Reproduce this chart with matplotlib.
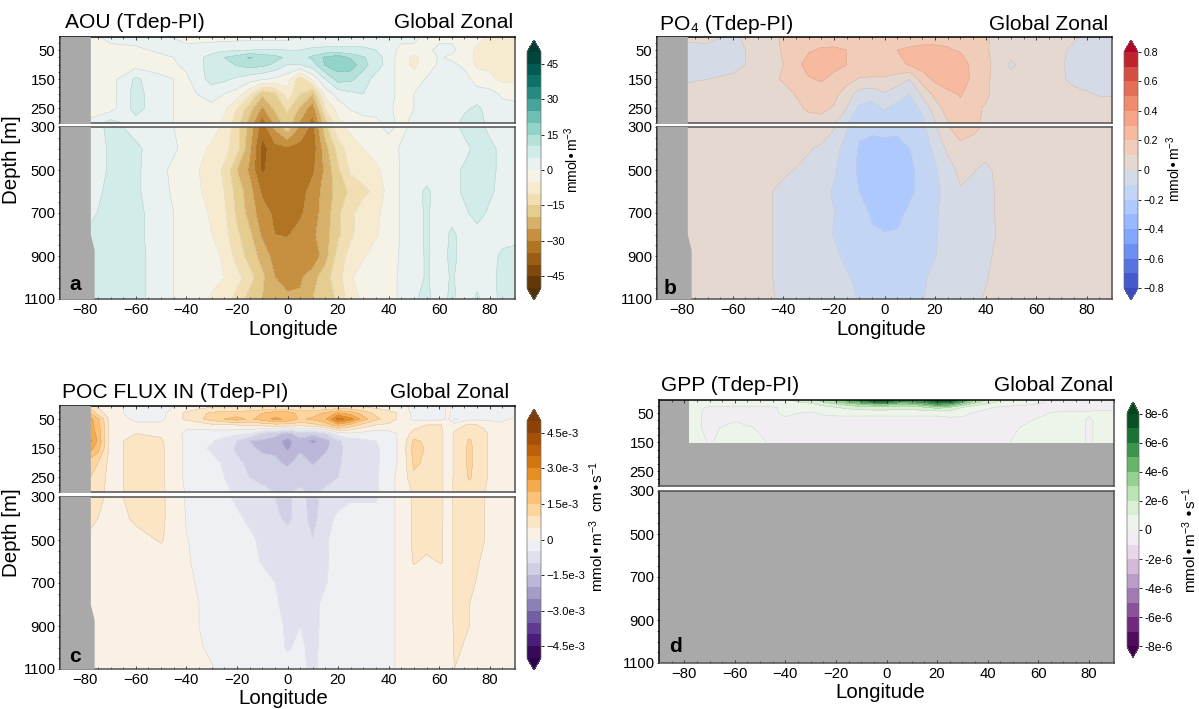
#!/usr/bin/env python3

import numpy as np
import matplotlib
matplotlib.use("Agg")
import matplotlib.pyplot as plt
from matplotlib.ticker import MultipleLocator

plt.rcParams['font.family'] = ['Liberation Sans', 'DejaVu Sans']
plt.rcParams['mathtext.default'] = 'regular'

WIDTH, HEIGHT = 1199, 709

# one row per depth, one column per longitude
lon = [-78, -70, -60, -50, -40, -30, -25, -20, -15, -10, -5, 0, 5, 10, 15,
       20, 25, 30, 35, 40, 45, 50, 55, 60, 65, 70, 75, 80, 85, 90]

aou_depth = [5, 50, 75, 100, 150, 200, 250, 300, 400, 500, 600, 700, 800, 900, 1000, 1100]
aou = [
    [-2, 2, 2, 1, -2, -2, -2, -2, -2, -2, -2, -2, 1, 1, 2, 2, 2, 2, 2, 2, 2, 2, -2, -1, -1, -2, -3, -6, -7, -7],
    [-2, -2, -1, 1, 2, 3, 4, 4.5, 5, 5.5, 5.5, 5, 5, 6, 6, 6, 6, 6, 5, 3, -2, -2, -1, 1, 1, -2, -6, -7, -7, -7],
    [-2, -2, -2, -1, 1, 7, 10, 12, 15.5, 13, 11.5, 9, 8, 11, 16, 18, 14, 10.5, 7, 3, -3, -6, -3, 0.5, -1, -3, -6, -7, -7, -7],
    [-2, -3, -2, -2, 1, 7, 8, 10.5, 12, 11.5, 9, 5, 5, 8, 15.5, 18, 18, 11.5, 7.5, 3, -3, -6, -3, 1, 1, -1, -6, -6, -7, -7],
    [-2, -2, 6, 1, -1, 7, 6, 4, 2, 0.5, -1, -3, -13, -4, 5, 12, 11, 7.5, 3, 2, -2, -3, 0.5, 1, 1.5, 2, -2, -4, -6, -6],
    [-2, -2, 7, 1, -1, 1.5, 0, -2, -9, -19, -16, -7, -15, -20, -3, 2, 4, 5, 3, 2, -2, 0, 1, 2, 2, 3, 2, 2, -1, -1],
    [-2, -2, 7, 1, -1, -1, -4, -10, -18, -26, -19, -14, -21, -28, -10, -3, 0.5, 2, 1.5, 1, -2, 0, 1, 3, 2, 4, 6, 3, 2, 1],
    [1, 7, 3, 2, -2, -3, -6, -13, -22, -33, -24, -17, -26, -32, -17, -6, -4, -2, -1, 1, -1, 1, 2, 3, 2, 7, 8, 3, 2, 2],
    [1, 6, 6, 2, -1, -6, -8, -13, -24, -37, -32, -31, -32, -33, -22, -13, -7, -5, -3, -2, 0.5, 1, 2, 2, 2, 3, 7, 7, 3, 3],
    [1, 6, 6, 1, -3, -7, -11, -20, -26, -36, -32, -32, -32, -31, -24, -16, -9, -8, -6, -3, 0.5, 1, 2, 3, 3, 6, 8, 7, 3, 3],
    [2, 7, 6, 1, -2, -7, -10, -17, -23, -31, -31.5, -33, -32, -28, -23, -18, -14, -11, -9, -3, 0.5, 3, 6, 3, 3, 6, 8, 6, 3, 3],
    [4, 7, 6.5, 2, -2, -5.5, -9, -16, -22, -28, -31, -31, -31, -27, -23, -16, -11, -8, -6, -3, 0.5, 2, 6, 2, 3, 4, 7, 4, 3, 3],
    [6, 7, 6.5, 2, -2, -5, -8, -14, -19, -26, -30, -30.5, -28, -26, -22, -16, -11, -7, -5.5, -3, 0.5, 2, 6, 2, 6, 3, 3, 3, 3, 4],
    [7, 7, 7, 2, -2, -3, -6, -12, -17, -22, -27, -27, -27, -29, -22, -13, -8, -5.5, -3, -2, 0.5, 1, 6, 1, 7, 2, 3, 3, 6, 6],
    [7, 7, 7, 2, -2, -4, -5, -8, -13, -19, -25, -27, -26, -22, -17, -12, -5.5, -3, -2, -1, 0.5, 1, 6, 1, 6, 1, 3, 3, 7, 7],
    [7, 7, 7, 2, -2, -5.5, -7, -12, -17, -20, -24, -24, -24, -20, -18, -14, -7, -4, -2, -1, 0.5, 4, 7, 1, 7, 1, 6, 2, 7, 7],
]

po4_depth = [5, 50, 100, 150, 200, 250, 300, 400, 500, 600, 700, 800, 900, 1000, 1100]
po4 = [
    [.02, .03, -.02, .05, .11, .15, .16, .17, .17, .17, .17, .17, .17, .17, .17, .17, .17, .17, .15, .11, .08, .05, .05, .05, .05, .05, .02, -.03, -.03, -.04],
    [-.03, -.03, -.03, .03, .11, .19, .21, .21, .2, .19, .17, .19, .2, .21, .22, .22, .21, .19, .15, .11, .07, .05, .04, .04, .03, .02, -.03, -.04, -.04, -.04],
    [-.03, -.03, -.03, .03, .10, .24, .26, .23, .2, .17, .15, .15, .17, .21, .24, .26, .27, .26, .17, .13, .06, -.02, .03, .05, .04, .01, -.03, -.04, -.04, -.04],
    [-.01, 0, .02, .05, .11, .19, .21, .17, .14, .09, .09, .09, .06, 0, .15, .22, .27, .27, .17, .12, .06, .04, .04, .03, .03, .01, -.02, -.04, -.04, -.04],
    [.03, .03, .04, .05, .07, .14, .15, .13, .05, -.04, -.06, -.01, -.06, -.1, .02, .13, .17, .21, .15, .12, .06, .05, .05, .04, .04, .03, .02, .01, -.01, -.01],
    [.04, .04, .05, .05, .06, .11, .12, .09, 0, -.12, -.14, -.09, -.13, -.16, -.07, .05, .15, .17, .12, .09, .06, .05, .05, .05, .05, .05, .05, .05, .05, .05],
    [.05, .05, .05, .05, .05, .07, .07, .01, -.09, -.18, -.18, -.18, -.18, -.18, -.13, -.01, .09, .17, .13, .08, .05, .05, .05, .05, .05, .05, .05, .05, .05, .05],
    [.05, .05, .05, .05, .05, .01, -.02, -.07, -.13, -.21, -.23, -.22, -.23, -.2, -.15, -.08, .02, .06, .05, .05, .05, .05, .05, .05, .05, .05, .05, .05, .05, .05],
    [.05, .05, .05, .05, .02, -.03, -.06, -.09, -.14, -.22, -.25, -.25, -.25, -.22, -.17, -.11, -.05, .03, .01, -.03, .03, .05, .05, .05, .05, .05, .05, .05, .05, .05],
    [.05, .05, .05, .04, -.03, -.05, -.07, -.11, -.15, -.2, -.23, -.25, -.25, -.22, -.17, -.12, -.07, -.01, -.04, -.05, .02, .05, .05, .05, .05, .05, .05, .05, .05, .05],
    [.05, .05, .05, .04, -.03, -.05, -.07, -.098, -.14, -.17, -.21, -.23, -.23, -.18, -.16, -.11, -.07, -.05, -.05, -.05, .02, .05, .05, .05, .05, .05, .05, .05, .05, .05],
    [.05, .05, .05, .04, -.03, -.04, -.06, -.105, -.14, -.16, -.19, -.195, -.19, -.16, -.15, -.11, -.06, -.05, -.05, -.04, .01, .05, .05, .05, .05, .05, .05, .05, .05, .05],
    [.05, .05, .05, .04, -.03, -.04, -.05, -.08, -.12, -.14, -.15, -.16, -.16, -.15, -.14, -.105, -.06, -.05, -.04, -.02, .02, .05, .05, .05, .05, .05, .05, .05, .05, .05],
    [.05, .05, .05, .04, -.03, -.04, -.05, -.07, -.09, -.12, -.14, -.14, -.14, -.13, -.12, -.07, -.05, -.04, -.03, -.005, .02, .05, .05, .05, .05, .05, .05, .05, .05, .05],
    [.05, .05, .05, .04, -.02, -.03, -.04, -.06, -.08, -.105, -.13, -.14, -.14, -.13, -.105, -.07, -.05, -.03, -.01, .005, .03, .05, .05, .05, .05, .05, .05, .05, .05, .05],
]

# units of 1e-3, columns follow the narrow bands near the coast and at 60-80
poc_lon = [-78, -75, -70, -60, -50, -40, -30, -25, -20, -15, -10, -5, 0, 5, 10, 15,
           20, 25, 30, 35, 40, 45, 50, 55, 61, 63.5, 66, 72, 78, 84, 90]
poc_depth = [5, 30, 50, 70, 100, 125, 150, 200, 250, 300, 400, 500, 600, 700, 800, 900, 1000, 1100]
poc = [
    [.8, .4, .2, -.2, -.2, .2, .4, .4, .4, .4, .4, .4, .4, .4, .4, .4, .4, .4, .4, .3, .2, .2, -.2, -.2, -.2, .1, -.2, -.2, -.2, -.2, -.1],
    [1.5, .8, .2, -.2, -.15, .6, 1.1, 1.2, 1.2, 1.3, 1.5, 1.8, 1.8, 1.3, 1.3, 1.6, 2.1, 1.8, 1.3, .9, .7, .4, -.15, -.15, -.15, .1, -.15, -.15, -.15, -.15, -.1],
    [2.2, 1.6, .3, -.1, -.1, .6, 1.2, 1.5, 1.7, 1.4, 1.7, 2.1, 1.9, 1.4, 1.6, 1.9, 3.2, 2.7, 1.7, 1.1, .8, .3, -.1, -.1, -.1, .05, -.6, -.1, -.1, -.1, .05],
    [2.2, 1.7, .3, .1, .1, .1, .4, .4, .5, .6, .7, .8, .8, .7, .8, 1.2, 1.8, 1.3, .8, .5, .4, .3, .3, .5, .5, .1, .2, .6, .4, .1, .2],
    [2.4, 1.8, .3, .5, .45, -.1, -.3, -.3, -.4, -.5, -1.1, -1.3, -1.7, -1.2, -1.3, -1.0, -.3, -.1, -.2, -.3, -.2, .1, .7, .7, .6, .1, .6, .9, .6, .1, .1],
    [2.6, 1.9, .3, .7, .55, -.1, -.45, -.7, -1, -1.5, -1.6, -1.8, -2.2, -1.7, -2.2, -1.7, -1.1, -.7, -.6, -.5, -.2, .1, 1.1, .9, .6, .1, .6, 1.05, .6, .1, .1],
    [2.2, 1.7, .3, .7, .6, -.1, -.6, -.7, -1.1, -1.4, -1.6, -1.6, -2.1, -1.6, -1.7, -1.6, -1.2, -.7, -.65, -.6, -.2, .1, 1.2, .95, .6, .1, .6, 1.1, .6, .1, .1],
    [1.2, 1, .3, .7, .6, -.1, -.3, -.6, -.9, -1.1, -1.3, -1.4, -1.6, -1.3, -1.55, -1.3, -1.1, -.7, -.6, -.6, -.2, .1, 1.1, .9, .6, .1, .6, 1.1, .6, .1, .1],
    [1, .8, .3, .7, .6, -.1, -.3, -.5, -.8, -1, -1.1, -1.2, -1.2, -1.2, -1.2, -1.2, -1, -.8, -.7, -.6, -.1, .1, .9, .7, .6, .1, .6, 1.05, .6, .1, .1],
    [.8, .7, .3, .7, .6, -.05, -.2, -.4, -.6, -.8, -.9, -1, -1.05, -.9, -1.1, -.9, -.7, -.6, -.6, -.6, -.1, .1, .6, .7, .6, .1, .7, .8, .5, .1, .1],
    [.6, .5, .2, .6, .6, -.02, -.2, -.3, -.4, -.6, -.8, -.9, -1.1, -.8, -1.15, -.7, -.4, -.2, -.2, -.2, -.1, .1, .6, .7, .6, .1, .7, .7, .5, .1, .1],
    [.4, .3, .2, .3, .55, .01, -.1, -.2, -.3, -.4, -.6, -.8, -.8, -.8, -.98, -.6, -.2, -.1, -.1, -.1, -.1, .1, .6, .7, .55, .1, .7, .7, .5, .1, .1],
    [.3, .25, .2, .2, .2, .02, -.1, -.15, -.2, -.3, -.55, -.6, -.7, -.7, -.8, -.6, -.2, -.1, -.1, -.1, -.1, .1, .55, .4, .55, .1, .7, .7, .4, .1, .1],
    [.3, .2, .1, .1, .1, .05, -.1, -.12, -.15, -.2, -.25, -.5, -.6, -.6, -.6, -.55, -.2, -.1, -.1, -.1, -.1, .1, .2, .1, .1, .1, .7, .65, .25, .1, .1],
    [.4, .2, .1, .1, .1, .1, -.1, -.1, -.12, -.15, -.2, -.4, -.7, -.7, -.7, -.3, -.2, -.1, -.1, -.1, -.1, .1, .1, .1, .1, .1, .65, .5, .1, .1, .1],
    [.5, .2, .1, .1, .1, .1, -.1, -.1, -.1, -.12, -.15, -.3, -.6, -.5, -.7, -.3, -.15, -.1, -.1, -.1, -.1, .1, .1, .1, .1, .1, .6, .5, .1, .1, .1],
    [.5, .2, .1, .1, .1, .1, -.05, -.1, -.1, -.1, -.12, -.3, -.55, -.4, -.65, -.3, -.15, -.1, -.1, -.1, -.1, .1, .1, .1, .1, .1, .55, .45, .1, .1, .1],
    [.5, .2, .1, .1, .1, .1, .02, -.1, -.1, -.1, -.1, -.3, -.3, -.4, -.6, -.3, -.1, -.1, -.1, -.1, -.1, .1, .1, .1, .1, .1, .5, .4, .1, .1, .1],
]

# units of 1e-6, only the top 150 m has values
gpp_depth = [5, 12, 20, 30, 50, 75, 100, 150]
gpp = [
    [.5, .5, .5, .6, .9, 1.5, 2.4, 3.5, 4.5, 5.5, 7.5, 7.5, 5.5, 5.5, 6, 7.5, 7.8, 5, 3, 1.8, 1, .6, .4, .3, -.6, -1.1, -.8, -.6, -.5, -.5],
    [.5, .5, .5, .5, .7, 1.2, 2, 2.8, 3.8, 4.8, 6.2, 6.2, 4.6, 4.8, 5.3, 6.8, 6.5, 4.2, 2.4, 1.4, .8, .5, .3, .2, -.2, -.6, -.5, -.4, -.4, -.4],
    [.4, .4, .3, .3, .4, .8, 1.3, 1.8, 2.4, 3, 3.5, 3.5, 2.8, 3, 3.8, 4.8, 4.5, 2.6, 1.3, .8, .4, .2, .1, -.1, -.2, -.3, -.2, -.2, -.3, -.3],
    [.3, -.1, -.2, -.2, .1, .4, .7, 1, 1.3, 1.6, 1.7, 1.7, 1.4, 1.5, 1.9, 2.4, 2, 1, .5, .1, -.1, -.2, -.2, -.2, -.2, -.2, -.2, -.2, -.2, -.2],
    [.3, -.2, -.3, -.3, .1, -.1, .1, .2, .2, .2, .2, .2, .2, .2, .2, .2, .4, .3, -.1, -.2, -.2, -.2, -.2, -.2, .02, .1, .1, .1, .2, .2],
    [.3, -.2, -.05, -.3, -.1, -.3, -.3, -.3, -.3, -.3, -.3, -.3, -.3, -.3, -.3, -.3, -.3, -.3, -.3, -.3, -.3, -.3, -.1, .1, .3, .3, .3, -.1, .2, .2],
    [.3, -.2, .3, -.1, -.3, -.3, -.3, -.3, -.3, -.3, -.3, -.3, -.3, -.3, -.3, -.3, -.3, -.3, -.3, -.3, -.3, -.1, .1, .3, .3, .3, .3, -.1, .2, .2],
    [.3, -.05, .3, .1, -.3, -.3, -.3, -.3, -.3, -.3, -.3, -.3, -.3, -.3, -.3, -.3, -.3, -.3, -.3, -.3, -.2, .05, .3, .3, .3, .3, .3, -.1, .2, .2],
]

coast_depth = [0, 800, 870, 1100]
coast_lon = [-78, -78, -76.5, -76.5]

lon_ticks = [-80, -60, -40, -20, 0, 20, 40, 60, 80]
upper_ticks = [50, 150, 250]
lower_ticks = [300, 500, 700, 900, 1100]

aou_cticks = [-45, -30, -15, 0, 15, 30, 45]
aou_clabels = ['\u221245', '\u221230', '\u221215', '0', '15', '30', '45']
po4_cticks = [-.8, -.6, -.4, -.2, 0, .2, .4, .6, .8]
po4_clabels = ['\u22120.8', '\u22120.6', '\u22120.4', '\u22120.2', '0', '0.2', '0.4', '0.6', '0.8']
poc_cticks = [-4.5, -3, -1.5, 0, 1.5, 3, 4.5]
poc_clabels = ['\u22124.5e-3', '\u22123.0e-3', '\u22121.5e-3', '0', '1.5e-3', '3.0e-3', '4.5e-3']
gpp_cticks = [-8, -6, -4, -2, 0, 2, 4, 6, 8]
gpp_clabels = ['-8e-6', '-6e-6', '-4e-6', '-2e-6', '0', '2e-6', '4e-6', '6e-6', '8e-6']

GRAY = '#a9a9a9'
SPINE = '#505050'


def px_axes(fig, x0, y0, x1, y1):
    return fig.add_axes([x0 / WIDTH, 1 - y1 / HEIGHT, (x1 - x0) / WIDTH, (y1 - y0) / HEIGHT])


def px_text(fig, x, y, s, **kw):
    kw.setdefault('ha', 'center')
    kw.setdefault('va', 'center')
    fig.text(x / WIDTH, 1 - y / HEIGHT, s, **kw)


def draw_field(ax, grid_lon, depth, values, levels, cmap):
    cf = ax.contourf(grid_lon, depth, values, levels=levels, cmap=cmap, extend='both')
    ax.contour(grid_lon, depth, values, levels=levels, colors='#8a8a8a', linewidths=0.3, alpha=0.4)
    return cf


def style_axis(ax):
    ax.set_facecolor(GRAY)
    ax.set_xlim(-90, 90)
    ax.xaxis.set_major_locator(MultipleLocator(20))
    ax.xaxis.set_minor_locator(MultipleLocator(5))
    ax.tick_params(which='major', length=2.5, width=0.5, direction='in', labelsize=10.7, pad=3)
    ax.tick_params(which='minor', length=1.3, width=0.4, direction='in')
    ax.tick_params(axis='y', which='both', direction='out', length=1.2, pad=2)
    for spine in ax.spines.values():
        spine.set_color(SPINE)
        spine.set_linewidth(1.1)
    ax.spines['left'].set_color('black')


def panel(fig, box, grid_lon, depth, values, levels, cmap, show_coast=True):
    x0, top, mid0, mid1, bottom, x1 = box
    upper = px_axes(fig, x0, top, x1, mid0)
    lower = px_axes(fig, x0, mid1, x1, bottom)
    for ax in (upper, lower):
        cf = draw_field(ax, grid_lon, depth, values, levels, cmap)
        if show_coast:
            ax.fill_betweenx(coast_depth, -90, coast_lon, color=GRAY, linewidth=0, zorder=3)
        style_axis(ax)
    upper.set_ylim(300, 5)
    upper.set_yticks(upper_ticks)
    upper.yaxis.set_minor_locator(MultipleLocator(25))
    upper.tick_params(axis='x', which='both', labelbottom=False, bottom=False, top=True)
    upper.spines['top'].set_color('black')
    lower.set_ylim(1100, 300)
    lower.set_yticks(lower_ticks)
    lower.yaxis.set_minor_locator(MultipleLocator(50))
    lower.set_xticks(lon_ticks)
    lower.set_xticklabels([str(t).replace('-', '\u2212') for t in lon_ticks])
    return cf


def colorbar(fig, cf, box, ticks, labels, size):
    cax = px_axes(fig, *box)
    cb = fig.colorbar(cf, cax=cax, orientation='vertical', extendfrac=0.05)
    cb.set_ticks(ticks, labels=labels)
    cb.ax.minorticks_off()
    cb.ax.tick_params(length=2.5, width=0.6, labelsize=size, pad=1.5)
    cb.outline.set_edgecolor('#707070')
    cb.outline.set_linewidth(0.5)


def main():
    fig = plt.figure(figsize=(WIDTH / 100, HEIGHT / 100), dpi=100)

    cf = panel(fig, (60, 37, 123, 127, 299, 515), lon, aou_depth, aou, np.arange(-50, 51, 5), 'BrBG')
    colorbar(fig, cf, (527, 40, 541, 300), aou_cticks, aou_clabels, 7.8)

    cf = panel(fig, (657, 37, 123, 127, 299, 1112), lon, po4_depth, po4, np.arange(-0.8, 0.81, 0.1), 'coolwarm')
    colorbar(fig, cf, (1124, 40, 1138, 300), po4_cticks, po4_clabels, 7.6)

    cf = panel(fig, (60, 406, 492, 497, 669, 515), poc_lon, poc_depth, poc, np.arange(-5, 5.1, 0.5), 'PuOr_r')
    colorbar(fig, cf, (527, 409, 541, 670), poc_cticks, poc_clabels, 8.2)

    cf = panel(fig, (659, 400, 486, 491, 663, 1114), lon, gpp_depth, gpp, np.arange(-8, 8.1, 1), 'PRGn', show_coast=False)
    colorbar(fig, cf, (1127, 402, 1139, 658), gpp_cticks, gpp_clabels, 8.8)

    title = dict(fontsize=15.1, va='center')
    px_text(fig, 65, 22, 'AOU (Tdep-PI)', ha='left', **title)
    px_text(fig, 513, 22, 'Global Zonal', ha='right', **title)
    px_text(fig, 660, 24, 'PO\u2084 (Tdep-PI)', ha='left', **title)
    px_text(fig, 1108, 24, 'Global Zonal', ha='right', **title)
    px_text(fig, 62, 392, 'POC FLUX IN (Tdep-PI)', ha='left', **title)
    px_text(fig, 509, 392, 'Global Zonal', ha='right', **title)
    px_text(fig, 661, 385, 'GPP (Tdep-PI)', ha='left', **title)
    px_text(fig, 1113, 385, 'Global Zonal', ha='right', **title)

    for x, y in [(293, 330), (881, 330), (283, 698), (880, 693)]:
        px_text(fig, x, y, 'Longitude', fontsize=14.8)
    for y in [160, 533]:
        px_text(fig, 12, y, 'Depth [m]', fontsize=14.8, rotation=90)

    for x, y, s in [(75, 284, 'a'), (670, 288, 'b'), (75, 656, 'c'), (675, 646, 'd')]:
        px_text(fig, x, y, s, fontsize=15, fontweight='bold')

    px_text(fig, 572, 160, 'mmol\u2022m$^{-3}$', fontsize=10, rotation=90)
    px_text(fig, 1174, 169, 'mmol\u2022m$^{-3}$', fontsize=10, rotation=90)
    px_text(fig, 597, 527, 'mmol\u2022m$^{-3}$  cm\u2022s$^{-1}$', fontsize=11, rotation=90)
    px_text(fig, 1190, 540, 'mmol\u2022m$^{-3}$ \u2022s$^{-1}$', fontsize=11, rotation=90)

    fig.savefig('out.png', dpi=100)


if __name__ == '__main__':
    main()
